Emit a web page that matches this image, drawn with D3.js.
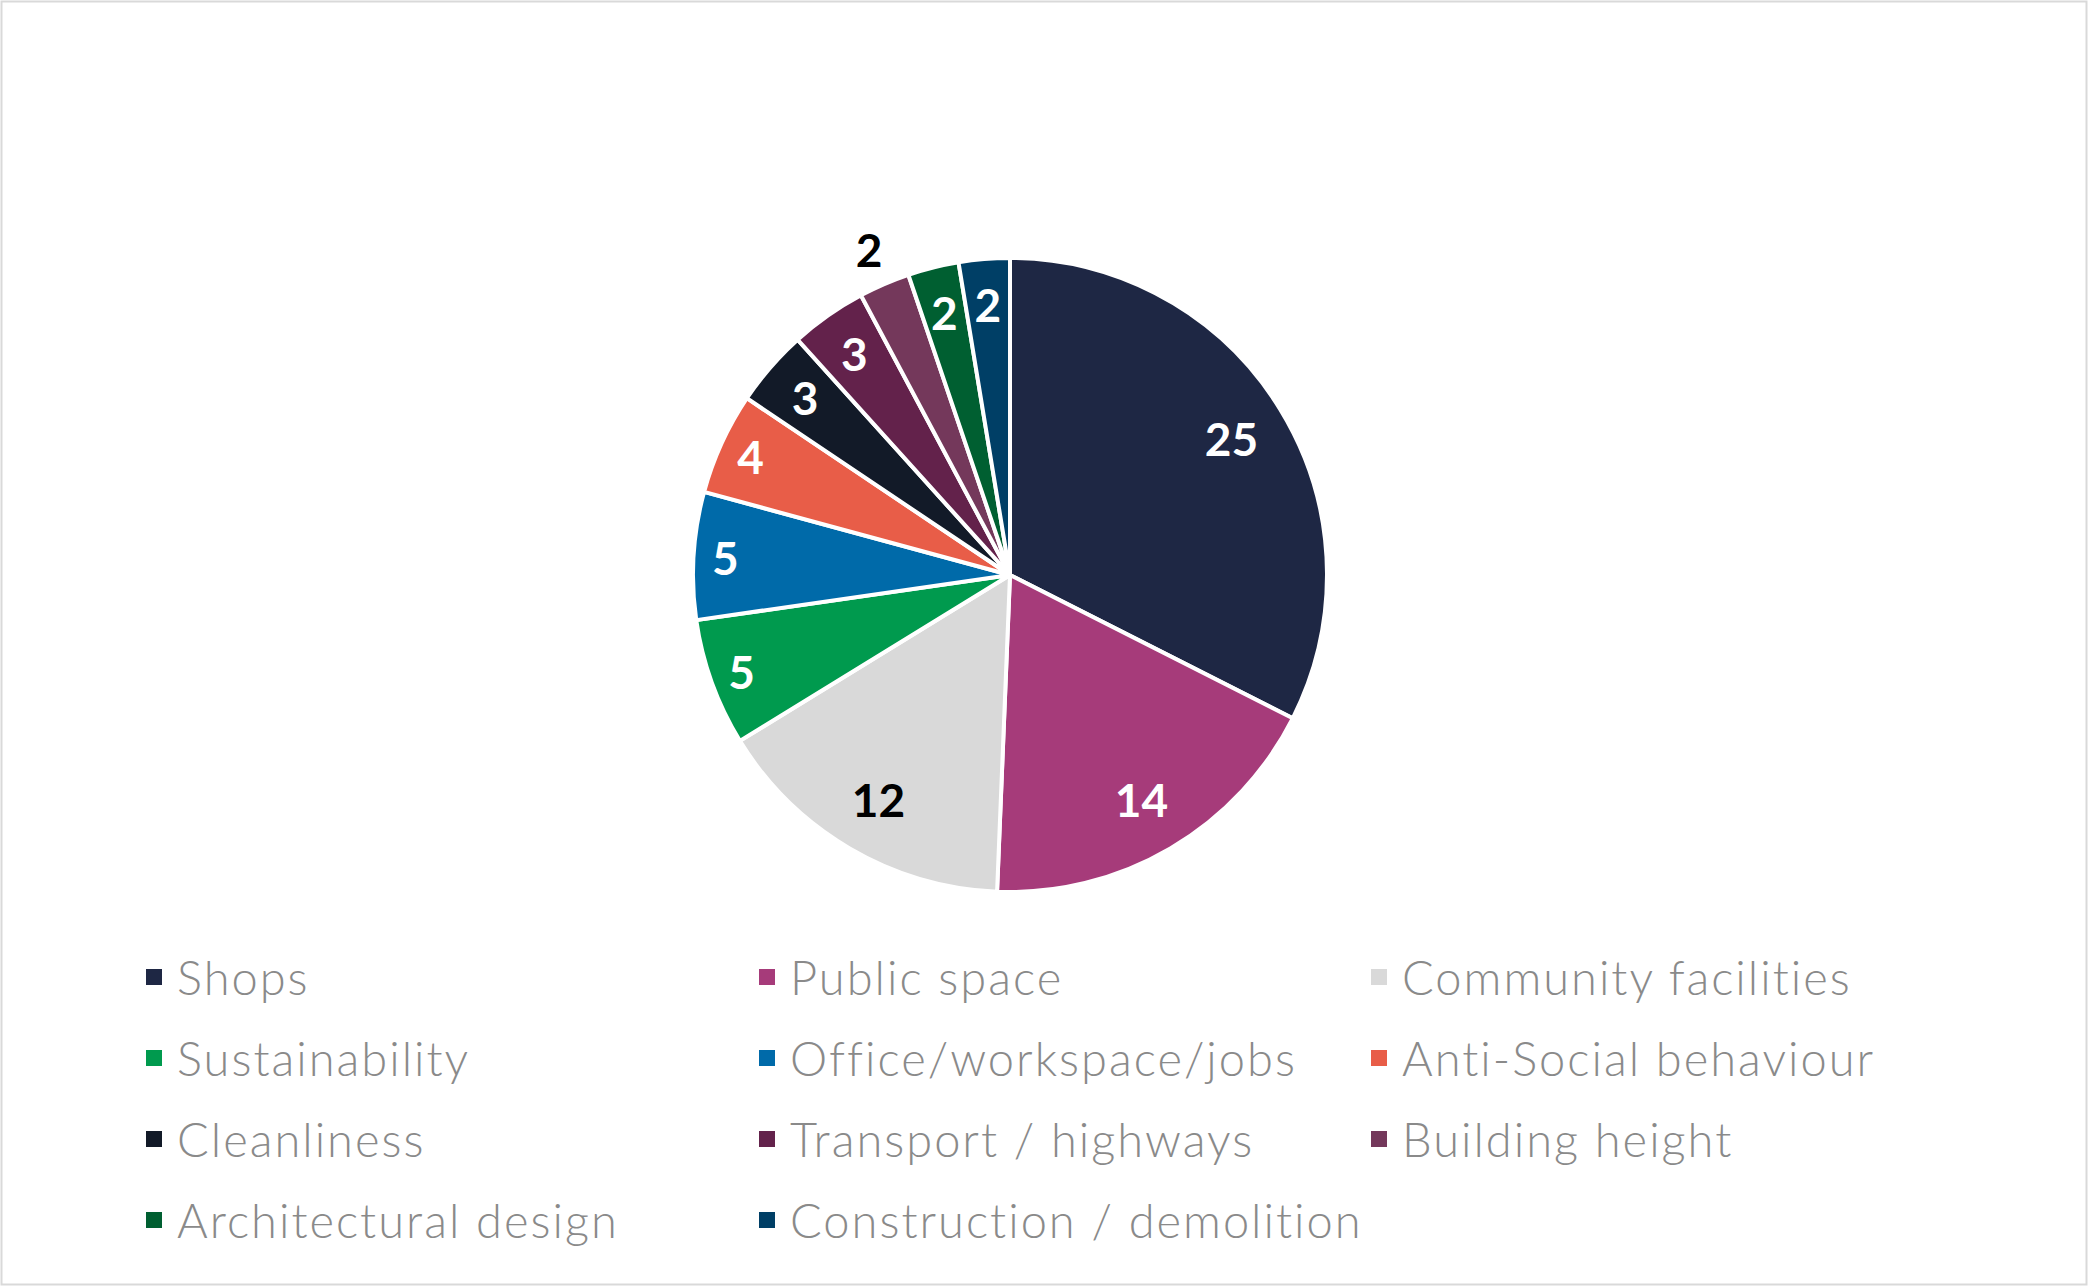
<!DOCTYPE html>
<html>
<head>
<meta charset="utf-8">
<script src="https://cdn.jsdelivr.net/npm/d3@7"></script>
<style>
  body { margin: 0; background: #fff; }
</style>
</head>
<body>
<script>
// data
var categories = ["Shops", "Public space", "Community facilities", "Sustainability",
    "Office/workspace/jobs", "Anti-Social behaviour", "Cleanliness", "Transport / highways",
    "Building height", "Architectural design", "Construction / demolition"];
var counts = [25, 14, 12, 5, 5, 4, 3, 3, 2, 2, 2];
var sliceColors = ["#1e2744", "#a63b7a", "#d9d9d9", "#009a4e", "#006aa9", "#e85d48",
    "#121a28", "#63224b", "#74385b", "#005f31", "#003f66"];
var darkLabels = ["Community facilities"];      // label drawn in black
var outsideLabels = ["Building height"];        // label pushed outside the pie

function drawChart() {
    var W = 2088, H = 1286;
    var svg = d3.select("body")
        .append("svg")
        .attr("width", W)
        .attr("height", H);

    // outer border
    svg.append("rect")
        .attr("x", 1.5)
        .attr("y", 1.5)
        .attr("width", W - 3)
        .attr("height", H - 3)
        .attr("fill", "#fff")
        .attr("stroke", "#d9d9d9")
        .attr("stroke-width", 2);

    var cx = 1010, cy = 575, r = 317;
    var g = svg.append("g").attr("transform", "translate(" + cx + "," + cy + ")");

    var pie = d3.pie().sort(null).value(d => d.v);
    var rows = categories.map((c, i) => { return { name: c, v: counts[i], col: sliceColors[i] }; });
    var arcs = pie(rows);
    var arc = d3.arc().innerRadius(0).outerRadius(r);

    g.selectAll("path.slice")
        .data(arcs)
        .enter()
        .append("path")
        .attr("class", "slice")
        .attr("d", arc)
        .attr("fill", d => d.data.col)
        .attr("stroke", "#fff")
        .attr("stroke-width", 4)
        .attr("stroke-linejoin", "round");

    // value labels
    g.selectAll("text.val")
        .data(arcs)
        .enter()
        .append("text")
        .attr("class", "val")
        .attr("transform", d => {
            var k = 0.82;
            if (d.data.v <= 5) k = 0.9;
            if (d.data.v <= 3) k = 0.855;
            if (outsideLabels.indexOf(d.data.name) >= 0) k = 1.12;
            var a = (d.startAngle + d.endAngle) / 2;
            return "translate(" + (Math.sin(a) * r * k) + "," + (-Math.cos(a) * r * k) + ")";
        })
        .attr("text-anchor", "middle")
        .attr("dominant-baseline", "central")
        .attr("font-family", "Lato, 'Noto Sans', sans-serif")
        .attr("font-weight", "bold")
        .attr("font-size", 46)
        .attr("fill", d => {
            if (darkLabels.indexOf(d.data.name) >= 0 || outsideLabels.indexOf(d.data.name) >= 0) return "#000";
            return "#fff";
        })
        .text(d => d.data.v);

    // legend, 3 columns
    var colX = [146, 759, 1371];
    var rowY = [977, 1058, 1139, 1220];
    var leg = svg.selectAll("g.leg")
        .data(rows)
        .enter()
        .append("g")
        .attr("class", "leg")
        .attr("transform", (d, i) => "translate(" + colX[i % 3] + "," + rowY[Math.floor(i / 3)] + ")");
    leg.append("rect")
        .attr("x", 0)
        .attr("y", -8)
        .attr("width", 16)
        .attr("height", 16)
        .attr("fill", d => d.col);
    leg.append("text")
        .attr("x", 31)
        .attr("y", 0)
        .attr("dominant-baseline", "central")
        .attr("font-family", "Lato, 'Noto Sans', sans-serif")
        .attr("font-weight", 300)
        .attr("font-size", 47)
        .attr("letter-spacing", 2)
        .attr("fill", "#8a8a8a")
        .text(d => d.name);
}

window.onload = drawChart;
</script>
</body>
</html>
